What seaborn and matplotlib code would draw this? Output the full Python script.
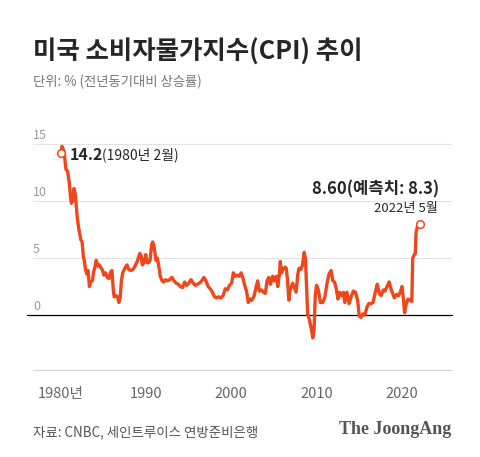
import matplotlib
matplotlib.use("Agg")
import matplotlib.pyplot as plt
import seaborn as sns
import pandas as pd

# values (year fraction, % yoy)
years = [
    1980.10, 1980.20, 1980.45, 1980.65, 1980.85, 1981.05, 1981.20, 1981.30, 1981.45, 1981.60,
    1981.75, 1981.95, 1982.15, 1982.30, 1982.40, 1982.55, 1982.70, 1982.80, 1982.95, 1983.10,
    1983.25, 1983.40, 1983.55, 1983.75, 1983.90, 1984.05, 1984.20, 1984.40, 1984.55, 1984.70,
    1984.90, 1985.10, 1985.30, 1985.50, 1985.70, 1985.90, 1986.05, 1986.20, 1986.30, 1986.50,
    1986.70, 1986.85, 1987.00, 1987.15, 1987.30, 1987.55, 1987.80, 1988.00, 1988.25, 1988.50,
    1988.75, 1989.00, 1989.30, 1989.45, 1989.60, 1989.80, 1990.00, 1990.15, 1990.35, 1990.50,
    1990.70, 1990.80, 1990.95, 1991.10, 1991.20, 1991.35, 1991.50, 1991.70, 1991.90, 1992.10,
    1992.30, 1992.55, 1992.80, 1993.05, 1993.30, 1993.55, 1993.80, 1994.05, 1994.30, 1994.55,
    1994.80, 1995.05, 1995.30, 1995.55, 1995.80, 1996.05, 1996.30, 1996.55, 1996.80, 1997.05,
    1997.30, 1997.55, 1997.80, 1998.05, 1998.30, 1998.55, 1998.80, 1999.05, 1999.30, 1999.55,
    1999.80, 2000.05, 2000.25, 2000.50, 2000.70, 2000.95, 2001.15, 2001.35, 2001.55, 2001.80,
    2002.00, 2002.20, 2002.40, 2002.65, 2002.90, 2003.10, 2003.30, 2003.55, 2003.80, 2004.00,
    2004.20, 2004.40, 2004.60, 2004.85, 2005.05, 2005.30, 2005.45, 2005.65, 2005.75, 2005.90,
    2006.05, 2006.30, 2006.45, 2006.60, 2006.75, 2006.85, 2007.00, 2007.20, 2007.45, 2007.60,
    2007.80, 2007.95, 2008.15, 2008.35, 2008.55, 2008.70, 2008.85, 2008.95, 2009.15, 2009.40,
    2009.55, 2009.70, 2009.85, 2010.00, 2010.20, 2010.45, 2010.70, 2010.95, 2011.20, 2011.45,
    2011.70, 2011.90, 2012.10, 2012.30, 2012.50, 2012.70, 2012.95, 2013.15, 2013.30, 2013.55,
    2013.80, 2014.05, 2014.30, 2014.55, 2014.80, 2015.00, 2015.20, 2015.40, 2015.65, 2015.90,
    2016.10, 2016.35, 2016.60, 2016.90, 2017.10, 2017.35, 2017.55, 2017.80, 2018.00, 2018.25,
    2018.50, 2018.70, 2018.90, 2019.10, 2019.35, 2019.60, 2019.85, 2020.00, 2020.15, 2020.30,
    2020.50, 2020.70, 2020.90, 2021.15, 2021.25, 2021.45, 2021.55, 2021.65, 2021.85, 2022.05,
]
cpi = [
    14.2, 14.8, 14.3, 12.8, 12.6, 11.6, 10.3, 9.8, 10.0, 11.1,
    10.6, 8.8, 7.6, 7.0, 6.6, 6.4, 5.1, 4.8, 4.0, 3.6,
    3.9, 2.5, 2.9, 3.0, 3.8, 4.2, 4.8, 4.3, 4.4, 4.2,
    4.0, 3.5, 3.7, 3.3, 3.2, 3.8, 3.9, 2.2, 1.6, 1.7,
    1.6, 1.1, 1.5, 3.0, 3.7, 4.1, 4.4, 4.0, 3.9, 4.0,
    4.3, 4.7, 5.4, 5.2, 4.4, 4.6, 5.3, 4.6, 4.6, 4.8,
    6.2, 6.4, 6.1, 5.3, 4.8, 5.0, 4.4, 3.4, 3.0, 2.9,
    3.1, 3.0, 3.1, 3.3, 3.0, 2.8, 2.7, 2.5, 2.4, 2.9,
    2.6, 2.8, 3.1, 2.8, 2.6, 2.7, 2.8, 3.0, 3.3, 3.0,
    2.5, 2.3, 2.0, 1.6, 1.5, 1.6, 1.5, 1.7, 2.3, 2.2,
    2.6, 2.8, 3.7, 3.4, 3.5, 3.4, 3.7, 3.3, 2.7, 2.1,
    1.1, 1.4, 1.3, 1.6, 2.4, 3.0, 2.1, 2.2, 2.0, 1.9,
    3.0, 3.3, 2.7, 3.4, 3.0, 3.4, 2.5, 3.6, 4.7, 3.7,
    4.0, 4.2, 4.1, 3.0, 1.3, 2.0, 2.4, 2.8, 2.3, 2.0,
    3.6, 4.1, 4.0, 4.4, 5.5, 4.9, 2.0, 0.1, -0.4, -1.3,
    -2.0, -1.3, 1.8, 2.6, 2.2, 1.1, 1.1, 1.5, 2.7, 3.6,
    3.9, 3.0, 2.9, 2.3, 1.4, 2.0, 1.7, 2.0, 1.1, 2.0,
    1.0, 1.6, 2.1, 2.0, 1.3, -0.1, -0.2, 0.1, 0.0, 0.7,
    1.0, 1.0, 1.1, 2.1, 2.7, 1.9, 1.7, 2.2, 2.1, 2.5,
    2.9, 2.3, 1.9, 1.5, 1.8, 1.7, 2.1, 2.5, 1.5, 0.2,
    1.0, 1.4, 1.3, 1.2, 5.0, 5.3, 5.4, 7.3, 7.9, 8.0,
]

peak_year, peak_value = 1980.10, 14.2
last_year, last_value = 2022.05, 8.0
grid_values = [5, 10, 15]
ytick_values = [0, 5, 10, 15]
xtick_years = list(range(1980, 2021, 5))
xtick_text = {1980: "1980년", 1990: "1990", 2000: "2000", 2010: "2010", 2020: "2020"}

RED = "#f0461c"

sns.set_style("white")
plt.rcParams["font.family"] = ["Noto Sans CJK KR", "DejaVu Sans"]

fig = plt.figure(figsize=(4.8, 4.57), dpi=100)
ax = fig.add_axes([33 / 480, 87 / 457, 419 / 480, 237.4 / 457])

df = pd.DataFrame({"year": years, "cpi": cpi})
sns.lineplot(data=df, x="year", y="cpi", ax=ax, color=RED, linewidth=2.4, zorder=3)

ax.set_xlim(1976.8, 2025.85)
ax.set_ylim(-4.82, 16)

# grid + zero line
for v in grid_values:
    ax.axhline(v, color="#e4e4e4", lw=0.8, zorder=1)
ax.plot([-0.015, 1], [0, 0], color="black", lw=0.9,
        transform=ax.get_yaxis_transform(), clip_on=False, zorder=2)

ax.set_yticks([])
for v in ytick_values:
    ax.text(0, v + 0.2, str(v), transform=ax.get_yaxis_transform(),
            ha="left", va="bottom", color="#999999", fontsize=9)

ax.set_xticks(xtick_years)
ax.set_xticklabels([xtick_text.get(y, "") for y in xtick_years])
ax.tick_params(axis="x", direction="in", length=5, width=0.8, color="#888888",
               labelsize=10.5, labelcolor="#666666", pad=12)
ax.set_xlabel("")
ax.set_ylabel("")

for s in ["top", "left", "right"]:
    ax.spines[s].set_visible(False)
ax.spines["bottom"].set_color("#d0d0d0")
ax.spines["bottom"].set_linewidth(0.8)

# start / end markers
ax.plot([peak_year, last_year], [peak_value, last_value], "o", mfc="white",
        mec=RED, ms=5.5, mew=1.1, zorder=4)

t1 = ax.annotate("14.2", xy=(peak_year, peak_value), xytext=(6.5, -1),
                 textcoords="offset points", fontsize=11.5, fontweight="bold",
                 va="center", ha="left")
ax.annotate("(1980년 2월)", xy=(1, 0.5), xycoords=t1, xytext=(-1.5, 0),
            textcoords="offset points", fontsize=10, va="center", ha="left")

ax.annotate("8.60(예측치: 8.3)", xy=(last_year, last_value), xytext=(14, 24.5),
            textcoords="offset points", fontsize=12, fontweight="bold",
            va="center", ha="right")
ax.annotate("2022년 5월", xy=(last_year, last_value), xytext=(13.5, 11),
            textcoords="offset points", fontsize=9.5, va="center", ha="right")

# titles / footer
fig.text(33 / 480, 1 - 52 / 457, "미국 소비자물가지수(CPI) 추이", fontsize=18.3,
         fontweight="bold", va="center", ha="left")
fig.text(33 / 480, 1 - 82 / 457, "단위: % (전년동기대비 상승률)", fontsize=9.6,
         color="#777777", va="center", ha="left")
fig.text(33 / 480, 1 - 432 / 457, "자료: CNBC, 세인트루이스 연방준비은행", fontsize=9.7,
         color="#555555", va="center", ha="left")
fig.text(451 / 480, 1 - 430 / 457, "The JoongAng", fontsize=13, fontweight="bold",
         family="Liberation Serif", color="#555555", va="center", ha="right")

fig.savefig("out.png", dpi=100)
